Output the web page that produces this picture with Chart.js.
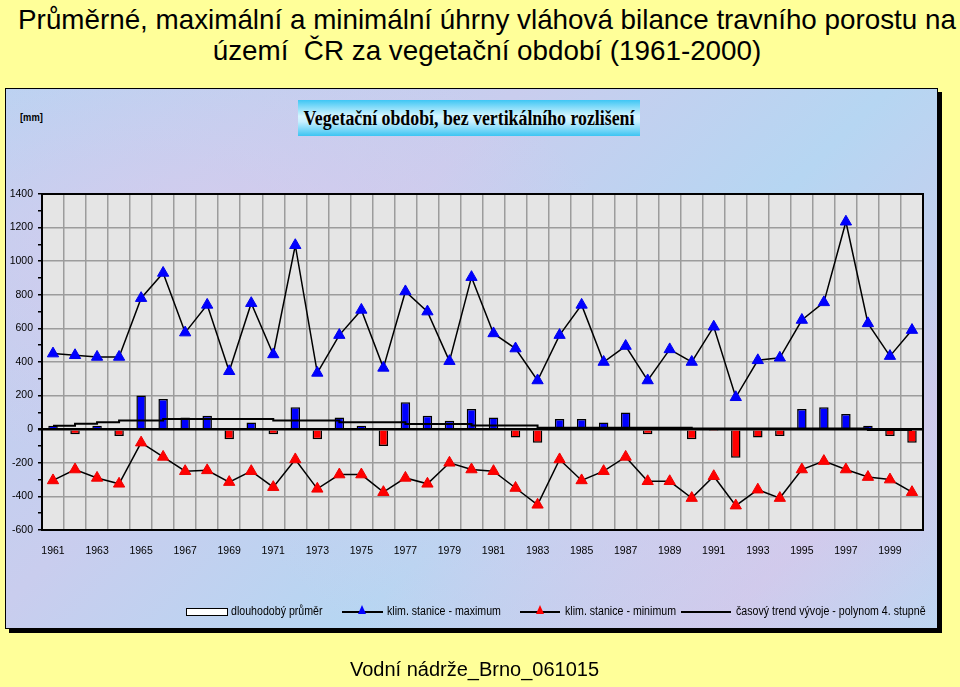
<!DOCTYPE html>
<html lang="cs">
<head>
<meta charset="utf-8">
<title>Vláhová bilance travního porostu 1961-2000</title>
<script src="https://cdn.jsdelivr.net/npm/chart.js@4.4.1/dist/chart.umd.min.js"></script>
<style>
html, body { margin: 0; padding: 0; }
body {
  width: 960px; height: 687px; position: relative; overflow: hidden;
  background: #ffff99; font-family: "Liberation Sans", Arial, sans-serif; color: #000;
}
.title { position: absolute; left: 7px; width: 960px; text-align: center; font-size: 27.8px; white-space: nowrap; }
.panel {
  position: absolute; left: 5px; top: 88px; width: 931px; height: 539px;
  border: 1px solid #000; box-shadow: 4px 4px 0 #000;
  background:
    radial-gradient(ellipse at 20% 30%, rgba(225,200,235,0.6), rgba(225,200,235,0) 40%),
    radial-gradient(ellipse at 70% 70%, rgba(225,200,235,0.5), rgba(225,200,235,0) 45%),
    linear-gradient(135deg, #b9d3f2, #c9cdee 35%, #b6d6f2 60%, #cccbec 85%, #bcd6f2);
}
.unit { position: absolute; left: 20px; top: 111px; font: bold 11px "Liberation Sans", sans-serif; transform: scaleX(0.85); transform-origin: left; }
.subtitle {
  position: absolute; left: 298px; top: 100px; width: 342px; height: 36px;
  background: linear-gradient(to bottom, #3fc6f4 0%, #d8f6ff 45%, #c8f0ff 60%, #3cc4f2 100%);
}
.subtitle span {
  position: absolute; left: 50%; top: 7px; font: bold 20px "Liberation Serif", serif;
  transform: translateX(-50%) scaleX(0.89); white-space: nowrap; line-height: 22px;
}
#wrap { position: absolute; left: 0; top: 0; width: 960px; height: 687px; }
.leg { position: absolute; top: 604px; font: 12.5px "Liberation Sans", sans-serif; white-space: nowrap; transform: scaleX(0.85); transform-origin: left; }
.box { position: absolute; left: 186px; top: 608px; width: 40px; height: 6px; background: #fff; border: 1px solid #000; }
.line { position: absolute; height: 2px; background: #000; top: 611px; }
.tri { position: absolute; top: 605px; width: 0; height: 0; border-left: 4px solid transparent; border-right: 4px solid transparent; }
.footer { position: absolute; left: 350px; top: 658px; font-size: 20px; white-space: nowrap; }
</style>
</head>
<body>
<div class="title" style="top:4px;line-height:31px">Průměrné, maximální a minimální úhrny vláhová bilance travního porostu na</div>
<div class="title" style="top:35px;line-height:31px">území&nbsp; ČR za vegetační období (1961-2000)</div>

<div class="panel"></div>
<div class="unit">[mm]</div>
<div class="subtitle"><span>Vegetační období, bez vertikálního rozlišení</span></div>

<div id="wrap"><canvas id="chart" width="960" height="687"></canvas></div>

<div class="box"></div>
<div class="leg" style="left:231px">dlouhodobý průměr</div>
<div class="line" style="left:342px;width:41px"></div>
<div class="tri" style="left:358px;border-bottom:9px solid #0000ff"></div>
<div class="leg" style="left:387px">klim. stanice - maximum</div>
<div class="line" style="left:520px;width:40px"></div>
<div class="tri" style="left:536px;border-bottom:9px solid #ff0000"></div>
<div class="leg" style="left:565px">klim. stanice - minimum</div>
<div class="line" style="left:681px;width:50px"></div>
<div class="leg" style="left:736px">časový trend vývoje - polynom 4. stupně</div>

<div class="footer">Vodní nádrže_Brno_061015</div>

<script>
const years = ['1961', '1962', '1963', '1964', '1965', '1966', '1967', '1968', '1969', '1970',
               '1971', '1972', '1973', '1974', '1975', '1976', '1977', '1978', '1979', '1980',
               '1981', '1982', '1983', '1984', '1985', '1986', '1987', '1988', '1989', '1990',
               '1991', '1992', '1993', '1994', '1995', '1996', '1997', '1998', '1999', '2000'];

// roční průměr (sloupce)
const average = [20, -30, 20, -40, 200, 180, 70, 80, -60, 40,
                 -30, 130, -60, 70, 20, -100, 160, 80, 50, 120,
                 70, -50, -80, 60, 60, 40, 100, -30, 0, -60,
                 -10, -170, -50, -40, 120, 130, 90, 20, -40, -80];

const maximum = [450, 440, 430, 430, 780, 930, 575, 740, 345, 750,
                 445, 1095, 335, 560, 710, 365, 820, 700, 405, 905,
                 570, 480, 290, 560, 740, 400, 495, 290, 475, 400,
                 610, 190, 410, 425, 650, 755, 1235, 630, 435, 590];

const minimum = [-305, -240, -290, -325, -80, -165, -250, -245, -315, -250,
                 -345, -180, -355, -270, -270, -375, -290, -325, -200, -240,
                 -250, -350, -450, -180, -305, -250, -165, -310, -310, -410,
                 -280, -455, -360, -410, -240, -190, -240, -285, -300, -375];

const trend = [20, 33, 42, 52, 52, 61, 61, 61, 61, 61,
               52, 52, 52, 42, 42, 42, 31, 31, 31, 22,
               22, 22, 8, 8, 8, 8, 8, 8, 8, 4,
               4, 4, 4, 4, 4, 4, 4, -5, -5, -5];

const tickFont = { family: '"Liberation Sans", Arial, sans-serif', size: 10.5 };

const plotFrame = {
  id: 'plotFrame',
  beforeDraw(chart) {
    const { ctx, chartArea: a } = chart;
    ctx.save();
    ctx.fillStyle = '#e5e5e5';
    ctx.fillRect(a.left, a.top, a.width, a.height);
    ctx.restore();
  },
  beforeDatasetsDraw(chart) {
    const { ctx, chartArea: a } = chart;
    ctx.save();
    ctx.strokeStyle = '#000';
    ctx.lineWidth = 2;
    ctx.strokeRect(a.left, a.top, a.width, a.height);
    ctx.restore();
  }
};

new Chart(document.getElementById('chart').getContext('2d'), {
  type: 'bar',
  data: {
    labels: years,
    datasets: [
      {
        type: 'line',
        label: 'klim. stanice - maximum',
        data: maximum,
        borderColor: '#000',
        borderWidth: 1.5,
        pointStyle: 'triangle',
        pointRadius: 6.5,
        pointBackgroundColor: '#0000ff',
        pointBorderColor: '#0000ee',
        pointBorderWidth: 1,
        order: 1
      },
      {
        type: 'line',
        label: 'klim. stanice - minimum',
        data: minimum,
        borderColor: '#000',
        borderWidth: 1.5,
        pointStyle: 'triangle',
        pointRadius: 6.5,
        pointBackgroundColor: '#ff0000',
        pointBorderColor: '#ee0000',
        pointBorderWidth: 1,
        order: 1
      },
      {
        type: 'line',
        label: 'časový trend vývoje - polynom 4. stupně',
        data: trend,
        stepped: 'before',
        borderColor: '#000',
        borderWidth: 2,
        pointRadius: 0,
        order: 2
      },
      {
        label: 'dlouhodobý průměr',
        data: average,
        backgroundColor: average.map(v => v >= 0 ? '#0000ff' : '#ff0000'),
        borderColor: '#000',
        borderWidth: 1.5,
        categoryPercentage: 1,
        barPercentage: 0.43,
        order: 3
      }
    ]
  },
  options: {
    responsive: false,
    animation: false,
    layout: { padding: { left: 8, right: 37, top: 194, bottom: 117 } },
    plugins: {
      legend: { display: false },
      title: { display: false },
      tooltip: { enabled: false }
    },
    scales: {
      x: {
        offset: true,
        grid: { offset: true, color: '#9c9c9c', lineWidth: 1.5, drawTicks: false },
        border: { display: false },
        ticks: {
          autoSkip: false, maxRotation: 0, padding: 15, color: '#000', font: tickFont,
          callback: (v, i) => i % 2 === 0 ? years[i] : ''
        },
        afterFit: s => { s.height = 40; }
      },
      y: {
        min: -600, max: 1400,
        grid: {
          color: c => c.tick.value === 0 ? '#000' : (c.tick.value % 200 === 0 ? '#9c9c9c' : 'rgba(0,0,0,0)'),
          lineWidth: c => c.tick.value === 0 ? 2.5 : 1.5,
          tickColor: '#000', tickLength: 4
        },
        border: { display: false },
        ticks: {
          stepSize: 100, padding: 5, color: '#000', font: tickFont,
          callback: v => v % 200 === 0 ? v : ''
        },
        afterFit: s => { s.width = 34; }
      }
    }
  },
  plugins: [plotFrame]
});
</script>
</body>
</html>
